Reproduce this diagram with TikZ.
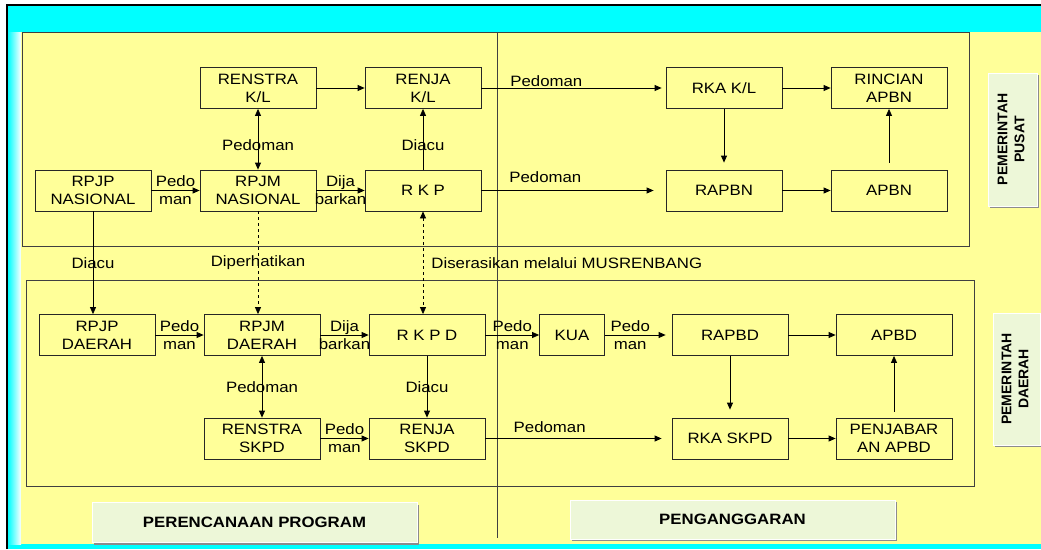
\documentclass[tikz,border=0pt]{standalone}
\usepackage{fontspec}
\setmainfont{Liberation Sans}[FakeStretch=1.12]
\newfontfamily\sidefont{Liberation Sans}
\usetikzlibrary{arrows.meta,shadows}
\definecolor{slideyellow}{HTML}{FFFF99}
\definecolor{slidecyan}{HTML}{00FFFF}
\definecolor{tagfill}{HTML}{EDF7D8}
\tikzset{
  box/.style={draw=black!85, line width=0.8pt, minimum width=116, minimum height=41, inner sep=0pt, align=center, font=\fontsize{15}{18}\selectfont},
  arr/.style={-{Triangle[length=7pt,width=6pt]}, line width=0.8pt},
  both/.style={{Triangle[length=7pt,width=6pt]}-{Triangle[length=7pt,width=6pt]}, line width=0.8pt},
  lbl/.style={inner sep=0pt, align=center, font=\fontsize{15}{18}\selectfont},
  frame/.style={draw=black!75, line width=0.8pt},
  tag/.style={fill=tagfill, draw=white, line width=0.6pt, inner sep=0pt, font=\fontsize{15}{18}\selectfont\bfseries,
    drop shadow={shadow xshift=2pt, shadow yshift=-2pt, fill=black!45, opacity=1}}
}

\begin{document}
\begin{tikzpicture}[x=1pt,y=-1pt] % 1 unit = 1 px of the slide
\useasboundingbox (0,0) rectangle (1041,549);
\fill[slidecyan] (7,5) rectangle (1041,549);
\shade[left color=slidecyan, right color=white] (8,32) rectangle (21,544);
\fill[slideyellow] (21,32) rectangle (1041,544);
\draw[line width=1.4pt] (7,549) -- (7,5) -- (1041,5);
\draw[frame] (22,32) rectangle (969,246); % pemerintah pusat
\draw[frame] (26,280) rectangle (974,486); % pemerintah daerah
\draw[frame] (497,32) -- (497,538);

\node[box] (renstrakl) at (258,88) {RENSTRA\\K/L};
\node[box] (renjakl) at (423,88) {RENJA\\K/L};
\node[box] (rkakl) at (724,88) {RKA K/L};
\node[box] (rincian) at (889,88) {RINCIAN\\APBN};
\node[box] (rpjpnas) at (93,190.5) {RPJP\\NASIONAL};
\node[box] (rpjmnas) at (258,190.5) {RPJM\\NASIONAL};
\node[box] (rkp) at (423,190.5) {R K P};
\node[box] (rapbn) at (724,190.5) {RAPBN};
\node[box] (apbn) at (889,190.5) {APBN};

\node[box] (rpjpdae) at (97,335) {RPJP\\DAERAH};
\node[box] (rpjmdae) at (262,335) {RPJM\\DAERAH};
\node[box] (rkpd) at (427,335) {R K P D};
\node[box, minimum width=65] (kua) at (572,335) {KUA};
\node[box] (rapbd) at (730,335) {RAPBD};
\node[box] (apbd) at (894,335) {APBD};
\node[box] (renstraskpd) at (262,438.5) {RENSTRA\\SKPD};
\node[box] (renjaskpd) at (427,438.5) {RENJA\\SKPD};
\node[box] (rkaskpd) at (730,438.5) {RKA SKPD};
\node[box] (penjabaran) at (894,438.5) {PENJABAR\\AN APBD};

\node[tag, minimum width=325, minimum height=40] (perencanaan) at (254.5,522.5) {PERENCANAAN PROGRAM};
\node[tag, minimum width=325, minimum height=39] (penganggaran) at (732.5,519.5) {PENGANGGARAN};
\node[tag, minimum width=49, minimum height=133] (pusat) at (1012.5,139.5)
  {\rotatebox{90}{\sidefont\fontsize{14}{17}\selectfont\bfseries\begin{tabular}{@{}c@{}}PEMERINTAH\\PUSAT\end{tabular}}};
\node[tag, minimum width=47, minimum height=132] (daerah) at (1016.5,379)
  {\rotatebox{90}{\sidefont\fontsize{14}{17}\selectfont\bfseries\begin{tabular}{@{}c@{}}PEMERINTAH\\DAERAH\end{tabular}}};

% pusat
\draw[arr] (renstrakl) -- (renjakl);
\draw[arr, shorten >=4pt] (renjakl) -- node[lbl, anchor=south west, pos=0.15, inner sep=1pt] {Pedoman} (rkakl);
\draw[arr] (rkakl) -- (rincian);
\draw[arr, shorten >=7pt] (rkakl) -- (rapbn);
\draw[arr, shorten <=7pt] (apbn) -- (rincian);
\draw[arr] (rapbn) -- (apbn);
\draw[arr, shorten >=12pt] (rkp) -- node[lbl, anchor=south west, pos=0.15, yshift=7pt] {Pedoman} (rapbn);
\draw[arr] (rpjpnas) -- node[lbl] {Pedo\\man} (rpjmnas);
\draw[both] (rpjmnas) -- node[lbl, pos=0.4] {Pedoman} (renstrakl);
\draw[arr] (rpjmnas) -- node[lbl] {Dija\\barkan} (rkp);
\draw[arr] (rkp) -- node[lbl, pos=0.4] {Diacu} (renjakl);

% pusat ke daerah
\draw[arr] (rpjpnas) -- node[lbl] {Diacu} (rpjpnas |- rpjpdae.north);
\draw[arr, dashed] (rpjmnas) -- node[lbl] {Diperhatikan} (rpjmnas |- rpjmdae.north);
\draw[both, dashed] (rkp) -- node[lbl, anchor=west, xshift=8pt] {Diserasikan melalui MUSRENBANG} (rkp |- rkpd.north);

% daerah
\draw[arr] (rpjpdae) -- node[lbl] {Pedo\\man} (rpjmdae);
\draw[arr] (rpjmdae) -- node[lbl] {Dija\\barkan} (rkpd);
\draw[arr] (rkpd) -- node[lbl] {Pedo\\man} (kua);
\draw[arr, shorten >=6pt] (kua) -- node[lbl, pos=0.38] {Pedo\\man} (rapbd);
\draw[arr] (rapbd) -- (apbd);
\draw[both] (rpjmdae) -- node[lbl] {Pedoman} (renstraskpd);
\draw[arr] (rkpd) -- node[lbl] {Diacu} (renjaskpd);
\draw[arr] (renstraskpd) -- node[lbl] {Pedo\\man} (renjaskpd);
\draw[arr, shorten >=10pt] (renjaskpd) -- node[lbl, anchor=south west, pos=0.15, yshift=5pt] {Pedoman} (rkaskpd);
\draw[arr, shorten >=8pt] (rapbd) -- (rkaskpd);
\draw[arr] (rkaskpd) -- (penjabaran);
\draw[arr, shorten <=6pt] (penjabaran) -- (apbd);
\end{tikzpicture}
\end{document}
